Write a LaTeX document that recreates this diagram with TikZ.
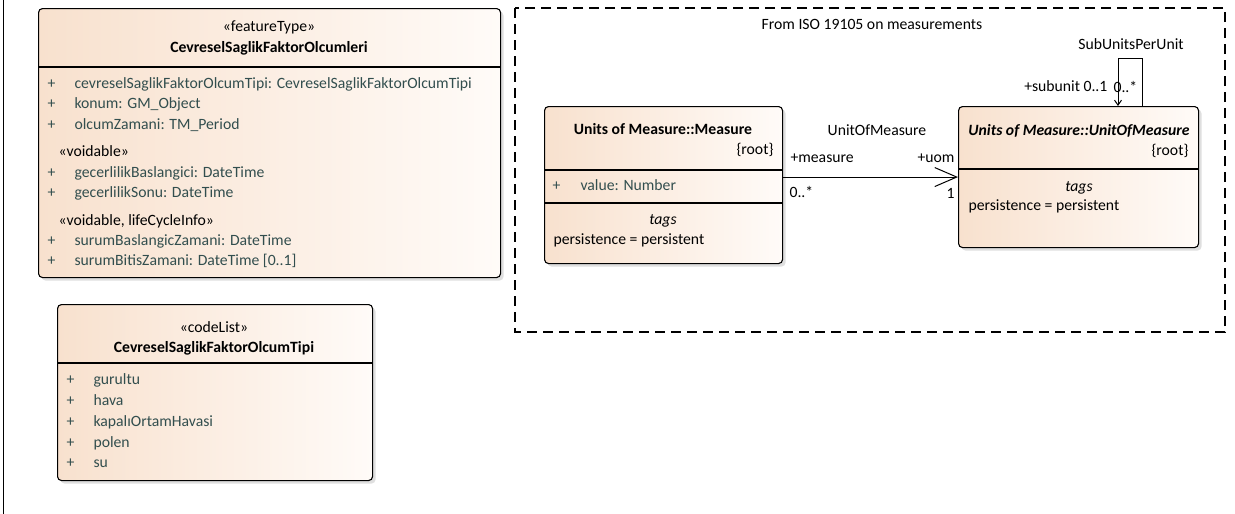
\documentclass[tikz,border=0pt]{standalone}
\usepackage{fontspec}
\setmainfont{Carlito}
\usetikzlibrary{arrows.meta,shadows,positioning,calc}
\definecolor{boxleft}{RGB}{248,225,206}
\definecolor{boxright}{RGB}{255,251,248}
\definecolor{attrcol}{RGB}{50,78,78}

\begin{document}
\begin{tikzpicture}[x=1pt,y=-1pt,line width=1.1pt,
  umlbox/.style={draw,rounded corners=4pt,left color=boxleft,right color=boxright,
    drop shadow={shadow xshift=3pt,shadow yshift=-3pt,fill=black!25,opacity=.5},
    inner sep=0pt,anchor=north west},
  txt/.style={inner sep=0pt,font=\fontsize{15.7}{18}\selectfont},
  lbl/.style={txt,anchor=mid west},
  attr/.style={txt,anchor=mid west,text=attrcol},
  hdr/.style={txt,anchor=mid},
  clsname/.style={txt,anchor=mid,font=\fontsize{15.7}{18}\selectfont\bfseries},
  assoc/.style={-{Straight Barb[length=22pt,width=19pt]},line width=1pt},
  selfassoc/.style={-{Straight Barb[length=5pt,width=7pt]},line width=1pt}]
  \useasboundingbox (0,0) rectangle (1235,514);
  \draw[line width=1pt] (3,0) -- (3,514);

  % feature type
  \node[umlbox,minimum width=462pt,minimum height=269pt] (fac) at (38,8) {};
  \draw (fac.north west |- 0,67) -- (fac.north east |- 0,67);
  \node[hdr]  at (269,29) {«featureType»};
  \node[clsname] at (269,50) {CevreselSaglikFaktorOlcumleri};
  \foreach \y/\t in {86/cevreselSaglikFaktorOlcumTipi: CevreselSaglikFaktorOlcumTipi,
                     106/konum: GM\_Object, 127/olcumZamani: TM\_Period,
                     175/gecerlilikBaslangici: DateTime, 195/gecerlilikSonu: DateTime,
                     243/surumBaslangicZamani: DateTime, 263/surumBitisZamani: DateTime [0..1]}
  {
    \node[attr] at (47,\y) {+};
    \node[attr] at (74,\y) {\t};
  }
  \node[lbl] at (58,154) {«voidable»};
  \node[lbl] at (58,223) {«voidable, lifeCycleInfo»};

  % code list
  \node[umlbox,minimum width=315pt,minimum height=176pt] (tip) at (57,304) {};
  \draw (tip.north west |- 0,363) -- (tip.north east |- 0,363);
  \node[hdr]  at (214,330) {«codeList»};
  \node[clsname] at (214,350) {CevreselSaglikFaktorOlcumTipi};
  \foreach \y/\t in {382/gurultu, 403/hava, 424/kapalıOrtamHavasi, 445/polen, 465/su}
  {
    \node[attr] at (66,\y) {+};
    \node[attr] at (93,\y) {\t};
  }

  % ISO 19105 package
  \draw[dash pattern=on 10pt off 6pt,line width=1.2pt] (515,8) rectangle (1225,332);
  \node[hdr] (iso) at (872,27) {From ISO 19105 on measurements};

  \node[umlbox,minimum width=238pt,minimum height=157pt] (measure) at (544,106) {};
  \draw (measure.north west |- 0,170) -- (measure.north east |- 0,170);
  \draw (measure.north west |- 0,203) -- (measure.north east |- 0,203);
  \node[clsname] at (663,132) {Units of Measure::Measure};
  \node[txt,anchor=mid east] at (774,152) {\{root\}};
  \node[attr] at (552,188) {+};
  \node[attr] at (580,188) {value: Number};
  \node[hdr] at (663,222) {\itshape tags};
  \node[lbl] at (553,242) {persistence = persistent};

  \node[umlbox,minimum width=240pt,minimum height=141pt] (uom) at (958,106) {};
  \draw (uom.north west |- 0,169) -- (uom.north east |- 0,169);
  \node[clsname,font=\fontsize{15.7}{18}\selectfont\bfseries\itshape] at (1079,133) {Units of Measure::UnitOfMeasure};
  \node[txt,anchor=mid east] at (1189,153) {\{root\}};
  \node[hdr] at (1079,189) {\itshape tags};
  \node[lbl] at (968,208) {persistence = persistent};

  % associations
  \draw[assoc] (measure.east |- uom.west) -- (uom.west);
  \node[hdr] at (877,133) {UnitOfMeasure};
  \node[lbl] at (790,160) {+measure};
  \node[txt,anchor=mid east] at (955,160) {+uom};
  \node[lbl] at (789,195) {0..*};
  \node[txt,anchor=mid east] at (955,196) {1};

  \coordinate (loopa) at ($(uom.north west)+(184,0)$);
  \coordinate (loopb) at ($(uom.north west)+(160,0)$);
  \draw[selfassoc] (loopa) -- ++(0,-48) -| (loopb);
  \node[hdr] at (1131,47) {SubUnitsPerUnit};
  \node[txt,anchor=mid east] at (1108,89) {+subunit 0..1};
  \node[lbl] at (1113,90) {0..*};
\end{tikzpicture}
\end{document}
